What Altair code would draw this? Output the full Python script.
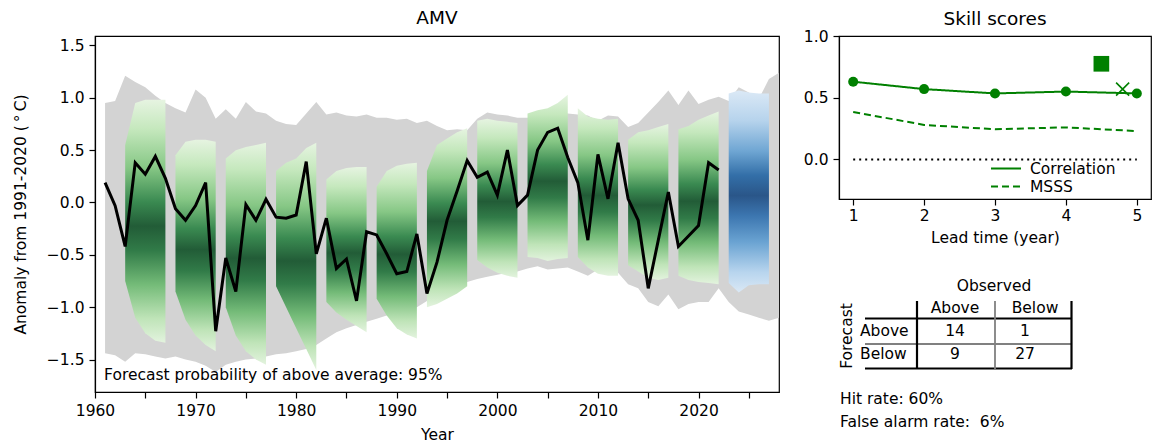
import altair as alt
import pandas as pd

FONT = "DejaVu Sans"
FS = 15.5
TFS = 18.5
GREEN = "#008000"

# ---------------- data ----------------
obs_years = list(range(1961, 2023))
obs_values = [0.19, -0.03, -0.42, 0.38, 0.27, 0.44, 0.23, -0.06, -0.17, -0.03,
              0.19, -1.23, -0.53, -0.85, -0.02, -0.17, 0.03, -0.14, -0.15, -0.12,
              0.39, -0.49, -0.15, -0.63, -0.54, -0.94, -0.28, -0.31, -0.49, -0.68,
              -0.66, -0.30, -0.87, -0.57, -0.17, 0.11, 0.40, 0.24, 0.29, 0.07,
              0.50, -0.03, 0.07, 0.50, 0.67, 0.71, 0.43, 0.19, -0.36, 0.46,
              0.035, 0.57, 0.035, -0.17, -0.82, -0.36, 0.10, -0.42, -0.32, -0.22,
              0.38, 0.31]

env_years = list(range(1961, 2029))
env_upper = [0.95, 0.97, 1.21, 1.15, 1.10, 1.02, 0.95, 0.90, 0.86, 1.08,
             1.00, 0.80, 0.89, 0.80, 0.96, 0.87, 0.85, 0.78, 0.75, 0.74,
             0.85, 0.96, 0.84, 0.86, 0.83, 0.82, 0.84, 0.81, 0.81, 0.79,
             0.80, 0.76, 0.78, 0.73, 0.69, 0.70, 0.69, 0.80, 0.86, 0.84,
             0.83, 0.81, 0.81, 0.84, 0.88, 0.87, 0.85, 0.84, 0.83, 0.78,
             0.83, 0.82, 0.72, 0.76, 0.86, 0.96, 1.07, 0.93, 1.07, 0.94,
             0.98, 1.01, 0.97, 1.10, 1.05, 0.99, 1.18, 1.24]
env_lower = [-1.44, -1.46, -1.52, -1.44, -1.45, -1.47, -1.49, -1.47, -1.50, -1.52,
             -1.56, -1.62, -1.55, -1.52, -1.50, -1.49, -1.47, -1.45, -1.44, -1.42,
             -1.40, -1.36, -1.30, -1.24, -1.20, -1.17, -1.14, -1.11, -1.08, -1.05,
             -1.03, -1.00, -0.94, -0.90, -0.86, -0.80, -0.76, -0.73, -0.71, -0.69,
             -0.67, -0.66, -0.63, -0.61, -0.64, -0.63, -0.62, -0.66, -0.70, -0.64,
             -0.68, -0.67, -0.78, -0.82, -0.95, -0.99, -0.88, -1.02, -0.97, -0.95,
             -0.95, -0.82, -0.95, -1.04, -1.07, -1.10, -1.13, -1.10]

block_starts = [1963, 1968, 1973, 1978, 1983, 1988, 1993, 1998, 2003, 2008, 2013, 2018]
block_top = [[0.55, 0.95, 0.98, 0.98, 0.98],
             [0.45, 0.58, 0.60, 0.60, 0.58],
             [0.42, 0.50, 0.53, 0.55, 0.57],
             [0.30, 0.38, 0.42, 0.52, 0.57],
             [0.22, 0.30, 0.33, 0.34, 0.34],
             [0.15, 0.30, 0.35, 0.37, 0.38],
             [0.30, 0.55, 0.61, 0.67, 0.71],
             [0.78, 0.80, 0.78, 0.77, 0.76],
             [0.85, 0.88, 0.90, 0.95, 1.03],
             [0.90, 0.82, 0.80, 0.79, 0.80],
             [0.60, 0.67, 0.69, 0.72, 0.75],
             [0.70, 0.73, 0.79, 0.83, 0.87]]
block_bottom = [[-0.75, -1.10, -1.25, -1.32, -1.34],
                [-0.85, -1.12, -1.27, -1.36, -1.42],
                [-1.00, -1.27, -1.42, -1.50, -1.55],
                [-0.80, -1.00, -1.20, -1.40, -1.60],
                [-0.95, -1.05, -1.12, -1.18, -1.24],
                [-0.92, -1.08, -1.20, -1.26, -1.30],
                [-1.00, -0.97, -0.92, -0.87, -0.80],
                [-0.55, -0.62, -0.67, -0.70, -0.72],
                [-0.52, -0.53, -0.56, -0.54, -0.53],
                [-0.52, -0.62, -0.68, -0.70, -0.70],
                [-0.60, -0.66, -0.72, -0.74, -0.72],
                [-0.70, -0.74, -0.76, -0.77, -0.78]]

fc_start = 2023
fc_top = [1.04, 1.07, 1.05, 1.04, 1.04]
fc_bottom = [-0.77, -0.86, -0.79, -0.78, -0.78]

prob_above = 95

lead_years = [1, 2, 3, 4, 5]
metrics = ["Correlation", "MSSS"]
corr = [0.63, 0.57, 0.535, 0.55, 0.535]
msss = [0.385, 0.28, 0.245, 0.26, 0.23]
square_lead, square_value = 4.5, 0.775
cross_lead, cross_value = 4.8, 0.57

cont_cols = ["Above", "Below"]
cont_rows = ["Above", "Below"]
cont_counts = [[14, 1], [9, 27]]
hit_rate = 60
false_alarm_rate = 6

# ---------------- main panel ----------------
xs = alt.Scale(domain=[1960, 2028], nice=False, zero=False)
ys = alt.Scale(domain=[-1.81, 1.59], nice=False, zero=False)

x_axis = alt.Axis(values=list(range(1960, 2030, 5)), format="d",
                  labelExpr="datum.value % 10 == 0 ? datum.label : ''",
                  title="Year", labelFlush=False, labelPadding=5, titlePadding=9)
y_axis = alt.Axis(values=[-1.5, -1.0, -0.5, 0.0, 0.5, 1.0, 1.5], format=".1f",
                  title="Anomaly from 1991-2020 (\u2009\u00b0\u2009C)",
                  labelFlush=False, labelPadding=5, titlePadding=18)

env_df = pd.DataFrame({"year": env_years, "upper": env_upper, "lower": env_lower})
env = alt.Chart(env_df).mark_area(color="#d3d3d3", opacity=1).encode(
    x=alt.X("year:Q", scale=xs, axis=x_axis),
    y=alt.Y("upper:Q", scale=ys, axis=y_axis),
    y2="lower:Q",
)

rows = []
for s, t, b in zip(block_starts, block_top, block_bottom):
    for k in range(5):
        rows.append({"block": s, "year": s + k, "top": t[k], "bottom": b[k]})
blocks_df = pd.DataFrame(rows)

fc_df = pd.DataFrame({"block": [fc_start] * 5,
                      "year": [fc_start + k for k in range(5)],
                      "top": fc_top, "bottom": fc_bottom})

green_grad = alt.Gradient(
    gradient="linear", x1=0, x2=0, y1=0, y2=1,
    stops=[alt.GradientStop(offset=0.0, color="#e6f4e1"),
           alt.GradientStop(offset=0.12, color="#c5e8bd"),
           alt.GradientStop(offset=0.28, color="#86c785"),
           alt.GradientStop(offset=0.42, color="#3a8a51"),
           alt.GradientStop(offset=0.52, color="#225c37"),
           alt.GradientStop(offset=0.62, color="#317b48"),
           alt.GradientStop(offset=0.76, color="#74bb78"),
           alt.GradientStop(offset=0.90, color="#bfe4b8"),
           alt.GradientStop(offset=1.0, color="#e3f3de")])
blue_grad = alt.Gradient(
    gradient="linear", x1=0, x2=0, y1=0, y2=1,
    stops=[alt.GradientStop(offset=0.0, color="#dbe9f6"),
           alt.GradientStop(offset=0.15, color="#b6d3ec"),
           alt.GradientStop(offset=0.30, color="#6fa6d3"),
           alt.GradientStop(offset=0.42, color="#336fa8"),
           alt.GradientStop(offset=0.52, color="#2a5689"),
           alt.GradientStop(offset=0.62, color="#3c76b0"),
           alt.GradientStop(offset=0.75, color="#6aa3d2"),
           alt.GradientStop(offset=0.90, color="#b8d5ee"),
           alt.GradientStop(offset=1.0, color="#dae8f5")])

green = alt.Chart(blocks_df).mark_area(color=green_grad, opacity=1).encode(
    x=alt.X("year:Q", scale=xs), y=alt.Y("top:Q", scale=ys), y2="bottom:Q",
    detail="block:N")
blue = alt.Chart(fc_df).mark_area(color=blue_grad, opacity=1).encode(
    x=alt.X("year:Q", scale=xs), y=alt.Y("top:Q", scale=ys), y2="bottom:Q")

obs_df = pd.DataFrame({"year": obs_years, "value": obs_values})
obs_line = alt.Chart(obs_df).mark_line(color="black", strokeWidth=3).encode(
    x=alt.X("year:Q", scale=xs), y=alt.Y("value:Q", scale=ys))

note_df = pd.DataFrame({"year": [1960.9], "value": [-1.65],
                        "label": [f"Forecast probability of above average: {prob_above}%"]})
note = alt.Chart(note_df).mark_text(align="left", baseline="middle", fontSize=FS,
                                    font=FONT, color="black").encode(
    x=alt.X("year:Q", scale=xs), y=alt.Y("value:Q", scale=ys), text="label:N")

main = alt.layer(env, green, blue, obs_line, note).properties(
    width=684, height=356,
    title=alt.TitleParams("AMV", fontSize=TFS, font=FONT, fontWeight="normal",
                          offset=9, anchor="middle", frame="group"),
    view=alt.ViewBackground(stroke="black", strokeWidth=1.2))

# ---------------- skill panel ----------------
SW, SH = 312, 163
sx = alt.Scale(domain=[0.8, 5.2], nice=False, zero=False)
sy = alt.Scale(domain=[-0.32, 1.0], nice=False, zero=False)
skill_df = pd.DataFrame({"lead": lead_years * 2, "score": corr + msss,
                         "metric": [metrics[0]] * 5 + [metrics[1]] * 5})
dash_scale = alt.Scale(domain=metrics, range=[[1, 0], [7, 4]])

sk_x = alt.Axis(values=lead_years, format="d", title="Lead time (year)",
                labelFlush=False, labelPadding=3, titlePadding=7)
sk_y = alt.Axis(values=[0.0, 0.5, 1.0], format=".1f", title=None, labelFlush=False,
                labelPadding=5)

zero_df = pd.DataFrame({"a": [lead_years[0]], "b": [lead_years[-1]], "z": [0.0]})
zero = alt.Chart(zero_df).mark_rule(color="black", strokeDash=[2, 4],
                                    strokeWidth=2).encode(
    x=alt.X("a:Q", scale=sx, axis=sk_x), x2="b:Q",
    y=alt.Y("z:Q", scale=sy, axis=sk_y))

sk_lines = alt.Chart(skill_df).mark_line(color=GREEN, strokeWidth=2).encode(
    x=alt.X("lead:Q", scale=sx), y=alt.Y("score:Q", scale=sy),
    strokeDash=alt.StrokeDash("metric:N", scale=dash_scale, legend=None))
sk_pts = alt.Chart(skill_df).transform_filter(f"datum.metric == '{metrics[0]}'").mark_point(
    shape="circle", filled=True, size=100, color=GREEN, opacity=1).encode(
    x=alt.X("lead:Q", scale=sx), y=alt.Y("score:Q", scale=sy))
sq = alt.Chart(pd.DataFrame({"lead": [square_lead], "score": [square_value]})).mark_point(
    shape="square", filled=True, size=246, color=GREEN, opacity=1).encode(
    x=alt.X("lead:Q", scale=sx), y=alt.Y("score:Q", scale=sy))
cr = alt.Chart(pd.DataFrame({"lead": [cross_lead], "score": [cross_value]})).mark_point(
    shape="M-1,-1L1,1M-1,1L1,-1", filled=False, size=170, color=GREEN,
    strokeWidth=1.6, opacity=1).encode(
    x=alt.X("lead:Q", scale=sx), y=alt.Y("score:Q", scale=sy))

skill = alt.layer(zero, sk_lines, sk_pts, sq, cr)

# ------- legend and contingency table (page-pixel layout below/inside the skill panel) -------
OX, OY = 837, 37   # page position of the skill panel's plot origin


def px(x):
    return x - OX


def py(y):
    return y - OY


tx = alt.Scale(domain=[0, SW], nice=False, zero=False)
ty = alt.Scale(domain=[SH, 0], nice=False, zero=False)
penc = dict(x=alt.X("x:Q", scale=tx, axis=None), y=alt.Y("y:Q", scale=ty, axis=None))

# legend
leg_y = [169.5, 187.5]
leg_df = pd.DataFrame({"metric": metrics, "x": [px(989)] * 2, "x2": [px(1019)] * 2,
                       "y": [py(v) for v in leg_y], "lx": [px(1028)] * 2})
leg_lines = alt.Chart(leg_df).mark_rule(color=GREEN, strokeWidth=2).encode(
    x=alt.X("x:Q", scale=tx, axis=None), x2="x2:Q",
    y=alt.Y("y:Q", scale=ty, axis=None),
    strokeDash=alt.StrokeDash("metric:N", scale=dash_scale, legend=None))
leg_text = alt.Chart(leg_df).mark_text(align="left", baseline="middle", fontSize=FS,
                                       font=FONT, color="black").encode(
    x=alt.X("lx:Q", scale=tx, axis=None), y=alt.Y("y:Q", scale=ty, axis=None),
    text="metric:N")

col_x = [953, 1023]
row_y = [332, 355]
center_txt = [("Observed", 992, 287), (cont_cols[0], col_x[0], 309),
              (cont_cols[1], 1033, 309)]
for i in range(2):
    for j in range(2):
        center_txt.append((str(cont_counts[i][j]), col_x[j], row_y[i]))
left_txt = [(cont_rows[0], 858, row_y[0]), (cont_rows[1], 858, row_y[1]),
            (f"Hit rate: {hit_rate}%", 838, 400),
            (f"False alarm rate:\u00a0 {false_alarm_rate}%", 838, 423)]

c_df = pd.DataFrame({"t": [a[0] for a in center_txt],
                     "x": [px(a[1]) for a in center_txt],
                     "y": [py(a[2]) for a in center_txt]})
l_df = pd.DataFrame({"t": [a[0] for a in left_txt],
                     "x": [px(a[1]) for a in left_txt],
                     "y": [py(a[2]) for a in left_txt]})
f_df = pd.DataFrame({"t": ["Forecast"], "x": [px(845)], "y": [py(337)]})

t_center = alt.Chart(c_df).mark_text(align="center", baseline="middle", fontSize=FS,
                                     font=FONT, color="black").encode(text="t:N", **penc)
t_left = alt.Chart(l_df).mark_text(align="left", baseline="middle", fontSize=FS,
                                   font=FONT, color="black").encode(text="t:N", **penc)
t_fc = alt.Chart(f_df).mark_text(align="center", baseline="middle", fontSize=FS,
                                 font=FONT, color="black", angle=270).encode(text="t:N", **penc)

lines = [  # x, x2, y, y2, colour, width
    (863, 1070, 319.5, 319.5, "black", 2.2),
    (863, 1070, 345, 345, "#808080", 1.8),
    (863, 1070, 369.5, 369.5, "black", 2.2),
    (915, 915, 302, 370, "black", 2.2),
    (993, 993, 302, 370, "#808080", 1.8),
    (1069.5, 1069.5, 302, 370, "black", 2.2),
]
ln_df = pd.DataFrame({"x": [px(a[0]) for a in lines], "x2": [px(a[1]) for a in lines],
                      "y": [py(a[2]) for a in lines], "y2": [py(a[3]) for a in lines],
                      "c": [a[4] for a in lines], "w": [a[5] for a in lines]})
t_lines = alt.Chart(ln_df).mark_rule().encode(
    x=alt.X("x:Q", scale=tx, axis=None), x2="x2:Q",
    y=alt.Y("y:Q", scale=ty, axis=None), y2="y2:Q",
    color=alt.Color("c:N", scale=None), strokeWidth=alt.StrokeWidth("w:Q", scale=None))

table = alt.layer(leg_lines, leg_text, t_lines, t_center, t_left, t_fc)

right = alt.layer(skill, table).resolve_scale(
    x="independent", y="independent", strokeDash="independent").properties(
    width=SW, height=SH,
    title=alt.TitleParams("Skill scores", fontSize=TFS, font=FONT, fontWeight="normal",
                          offset=1, anchor="middle", frame="group"),
    view=alt.ViewBackground(stroke="black", strokeWidth=1.2))

chart = alt.hconcat(main, right, spacing=22).properties(
    padding={"left": 12, "top": 7, "right": 0, "bottom": 0}
).configure(font=FONT).configure_axis(
    labelFont=FONT, labelFontSize=FS, titleFont=FONT, titleFontSize=FS,
    labelColor="black", titleColor="black", tickColor="black", domainColor="black",
    titleFontWeight="normal", grid=False, tickSize=6,
    domainWidth=1.2, tickWidth=1.2
).configure_view(stroke="black")

chart.save("out.html", embed_options={"renderer": "svg", "actions": False})
